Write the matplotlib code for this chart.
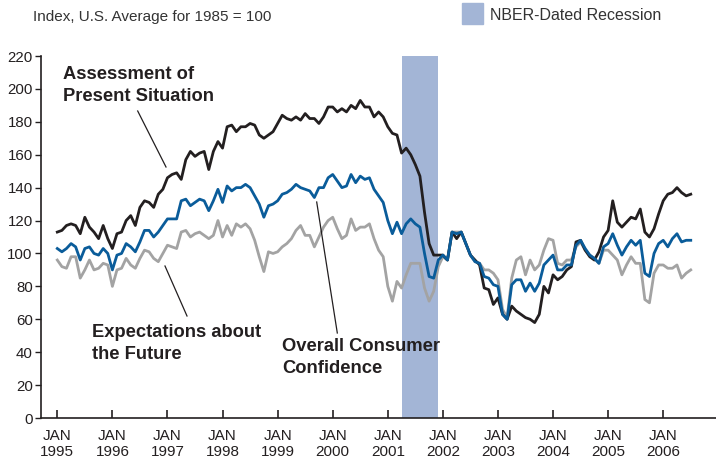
import matplotlib.pyplot as plt
from matplotlib.lines import Line2D
from matplotlib.patches import Rectangle
import numpy as np

plt.rcParams['font.family'] = ['Liberation Sans', 'DejaVu Sans']

# Conference Board indexes, monthly Jan 1995 .. Jul 2006 (1985 = 100)
present = [113, 114, 117, 118, 117, 112, 122, 116, 113, 109, 117, 109,
           103, 112, 113, 120, 123, 117, 128, 132, 131, 128, 136, 139,
           146, 148, 149, 145, 157, 162, 159, 161, 162, 151, 162, 168,
           164, 177, 178, 174, 177, 177, 179, 178, 172, 170, 172, 174,
           179, 184, 182, 181, 183, 181, 185, 182, 182, 179, 183, 189,
           189, 186, 188, 186, 190, 188, 193, 189, 189, 183, 186, 183,
           177, 173, 172, 161, 164, 160, 154, 147, 125, 106, 99, 99,
           99, 96, 113, 109, 113, 106, 99, 96, 93, 79, 78, 69,
           73, 63, 60, 68, 65, 63, 61, 60, 58, 63, 80, 76,
           87, 84, 86, 90, 92, 107, 108, 102, 98, 96, 101, 110,
           114, 132, 119, 116, 119, 122, 121, 127, 113, 110, 115, 124,
           132, 136, 137, 140, 137, 135, 136]
overall = [103, 101, 103, 106, 104, 96, 103, 104, 100, 99, 103, 100,
           90, 99, 100, 106, 104, 101, 107, 114, 114, 110, 113, 117,
           121, 121, 121, 132, 133, 129, 131, 133, 132, 126, 132, 139,
           131, 141, 138, 140, 140, 142, 140, 135, 130, 122, 129, 130,
           132, 136, 137, 139, 142, 140, 139, 138, 134, 140, 140, 146,
           148, 144, 140, 141, 148, 143, 147, 145, 146, 139, 135, 131,
           120, 112, 119, 112, 118, 121, 118, 116, 100, 86, 85, 96,
           99, 96, 113, 112, 113, 106, 99, 95, 94, 86, 85, 81,
           80, 63, 60, 81, 84, 84, 77, 82, 77, 82, 93, 96,
           99, 90, 90, 93, 93, 105, 108, 103, 99, 97, 94, 104,
           106, 112, 105, 99, 104, 108, 105, 108, 88, 86, 100, 106,
           108, 104, 109, 112, 107, 108, 108]
expect = [96, 92, 91, 98, 98, 85, 90, 96, 90, 91, 94, 93,
          80, 90, 91, 97, 93, 91, 97, 102, 101, 97, 95, 100,
          105, 104, 103, 113, 114, 110, 112, 113, 111, 109, 111, 120,
          110, 117, 111, 118, 116, 118, 115, 108, 98, 89, 101, 100,
          101, 104, 106, 109, 114, 117, 111, 111, 104, 110, 116, 120,
          122, 115, 109, 111, 121, 114, 116, 116, 118, 109, 102, 98,
          80, 71, 83, 79, 87, 94, 94, 94, 79, 71, 77, 92,
          98, 96, 113, 113, 113, 106, 99, 95, 94, 90, 90, 88,
          84, 66, 61, 85, 96, 98, 87, 96, 90, 93, 102, 109,
          108, 94, 93, 96, 96, 104, 107, 102, 99, 97, 94, 102,
          102, 99, 96, 87, 93, 98, 94, 94, 72, 70, 88, 93,
          93, 91, 91, 93, 85, 88, 90]
years = list(range(1995, 2007))
recession = (75, 83)  # months after Jan 1995, NBER 2001 recession

months = np.arange(len(present))
W, H = 716, 458
ink = '#231f20'
rec_col = '#a3b5d6'

fig = plt.figure(figsize=(W / 100, H / 100), dpi=100)
ax = fig.add_axes([41 / W, 1 - 418 / H, 1 - 41 / W, (418 - 56) / H])

ax.axvspan(recession[0], recession[1], color=rec_col, lw=0, zorder=0)
ax.plot(months, expect, color='#a3a3a3', lw=2, zorder=2)
ax.plot(months, present, color=ink, lw=2, zorder=3)
ax.plot(months, overall, color='#0a5c9a', lw=2, zorder=4)

ax.set_xlim(-3.55, 143.5)
ax.set_ylim(0, 220)
ax.set_yticks(range(0, 221, 20))
ax.set_xticks([12 * (y - 1995) for y in years])
ax.set_xticklabels(['JAN\n%d' % y for y in years])
ax.tick_params(axis='y', direction='out', length=4, width=1, labelsize=10.8,
               pad=2, colors=ink)
ax.tick_params(axis='x', direction='in', length=6, width=1.2, labelsize=11,
               pad=8, colors=ink)
for s in ['top', 'right']:
    ax.spines[s].set_visible(False)
for s in ['left', 'bottom']:
    ax.spines[s].set_linewidth(1.2)
    ax.spines[s].set_color(ink)


def px(x, y):
    return x / W, 1 - y / H


fig.text(*px(33, 17), 'Index, U.S. Average for 1985 = 100', fontsize=11,
         va='center', ha='left', color='#333333')
fig.patches.append(Rectangle(px(462, 24), 21 / W, 21 / H,
                             transform=fig.transFigure, color=rec_col))
fig.text(*px(490, 16), 'NBER-Dated Recession', fontsize=11.5,
         va='center', ha='left', color='#333333')

notes = [('Assessment of\nPresent Situation', 63, 66),
         ('Expectations about\nthe Future', 92, 324),
         ('Overall Consumer\nConfidence', 282, 338)]
for txt, x, y in notes:
    fig.text(*px(x, y), txt, fontsize=13.2, fontweight='bold', va='top',
             ha='left', color=ink, linespacing=1.38)

leaders = [((137.7, 111), (166, 167)),
           ((165, 266), (187, 316)),
           ((316.7, 202), (337.3, 333))]
for a, b in leaders:
    xa, ya = px(*a)
    xb, yb = px(*b)
    fig.add_artist(Line2D([xa, xb], [ya, yb], transform=fig.transFigure,
                          color=ink, lw=0.9))

fig.savefig('out.png', dpi=100)
